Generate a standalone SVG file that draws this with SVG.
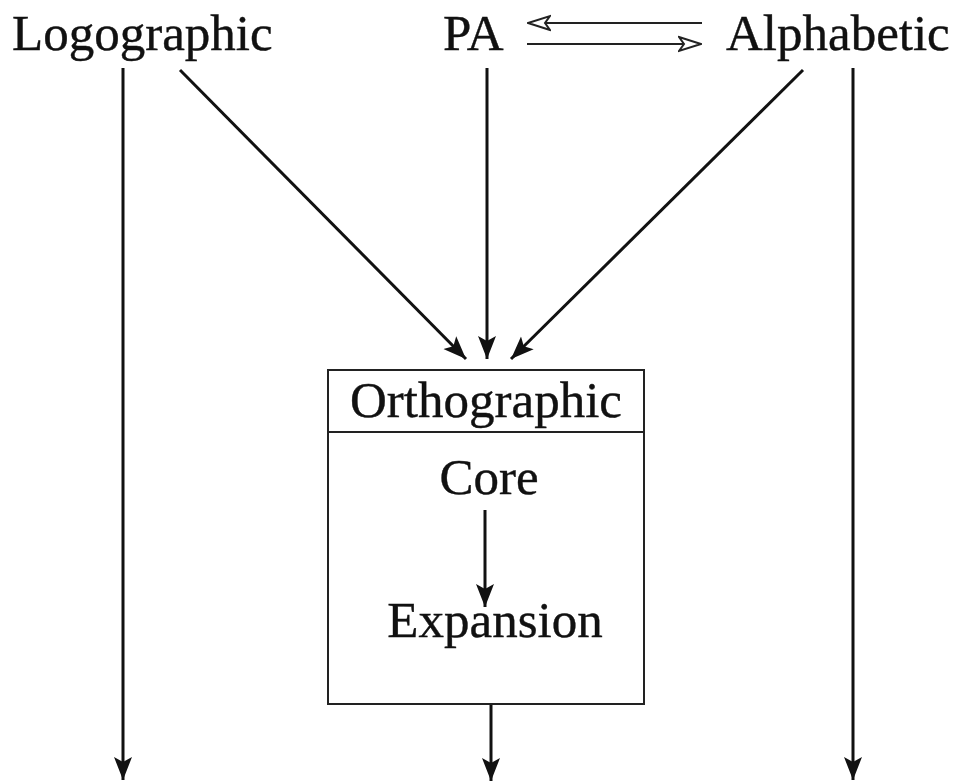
<svg xmlns="http://www.w3.org/2000/svg" width="961" height="782" viewBox="0 0 961 782">
<style>
  text { font-family: "Liberation Serif", "Times New Roman", serif; font-size: 51px; fill: #111; stroke: #111; stroke-width: 0.4; }
  .ln { stroke: #111; stroke-width: 3; fill: none; }
  .thin { stroke: #222; stroke-width: 2; fill: none; }
</style>
<defs>
  <marker id="ah" markerUnits="userSpaceOnUse" markerWidth="24" markerHeight="24" viewBox="0 0 24 24" refX="23" refY="12" orient="auto">
    <path d="M0,3 L23,12 L0,21 L5,12 Z" fill="#111"/>
  </marker>
  <marker id="ahHollow" markerUnits="userSpaceOnUse" markerWidth="24" markerHeight="18" viewBox="0 0 24 18" refX="23" refY="9" orient="auto">
    <path d="M1,2 L23,9 L1,16 L6,9 Z" fill="#fff" stroke="#222" stroke-width="2"/>
  </marker>
</defs>
<rect width="961" height="782" fill="#fff"/>
<g id="logographic"><text x="12" y="50">Logographic</text></g>
<g id="pa"><text x="443" y="50">PA</text></g>
<g id="alphabetic"><text x="726" y="50">Alphabetic</text></g>
<g id="orthographic">
  <rect x="328" y="370" width="316" height="334" class="thin"/>
  <line x1="328" y1="432" x2="644" y2="432" class="thin"/>
  <text x="486" y="417" text-anchor="middle">Orthographic</text>
  <g id="core"><text x="489" y="494" text-anchor="middle">Core</text></g>
  <g id="expansion"><text x="495" y="637" text-anchor="middle">Expansion</text></g>
</g>
<g id="connectors">
  <line x1="702" y1="23" x2="528" y2="23" class="thin" marker-end="url(#ahHollow)"/>
  <line x1="527" y1="44" x2="701" y2="44" class="thin" marker-end="url(#ahHollow)"/>
  <line x1="123" y1="68" x2="123" y2="780" class="ln" marker-end="url(#ah)"/>
  <line x1="853" y1="68" x2="853" y2="780" class="ln" marker-end="url(#ah)"/>
  <line x1="487" y1="68" x2="487" y2="359" class="ln" marker-end="url(#ah)"/>
  <line x1="180" y1="70" x2="466" y2="359" class="ln" marker-end="url(#ah)"/>
  <line x1="803" y1="70" x2="511" y2="359" class="ln" marker-end="url(#ah)"/>
  <line x1="485" y1="510" x2="485" y2="607" class="ln" marker-end="url(#ah)"/>
  <line x1="491" y1="705" x2="491" y2="781" class="ln" marker-end="url(#ah)"/>
</g>
</svg>
